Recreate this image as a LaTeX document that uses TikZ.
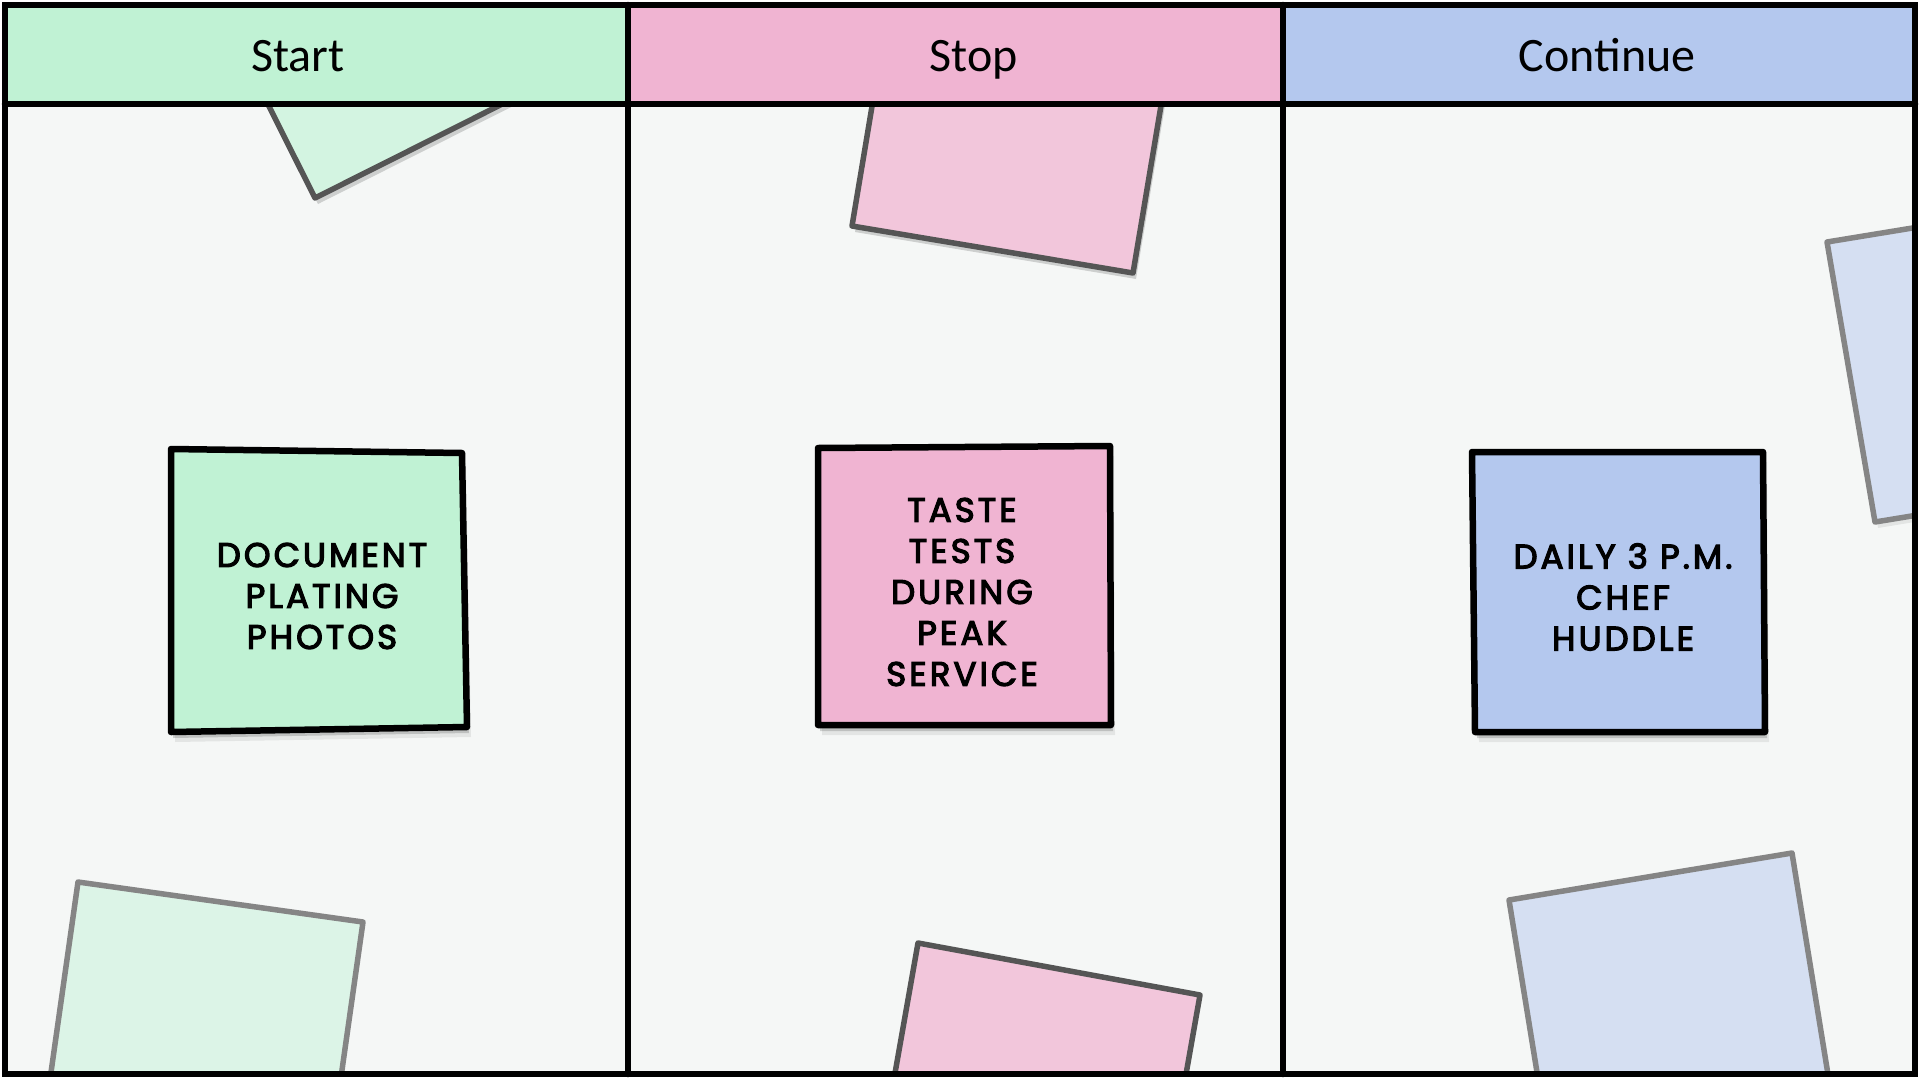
\documentclass[tikz,border=0pt]{standalone}
\usepackage{fontspec}
\setmainfont{Carlito}
\newfontfamily\handfont[LetterSpace=9,FakeBold=3.5]{Poppins}
\definecolor{bodybg}{HTML}{F5F7F6}
\definecolor{hgreen}{HTML}{C0F2D4}
\definecolor{hpink}{HTML}{F0B4D2}
\definecolor{hblue}{HTML}{B4C8EE}
\definecolor{fgreen}{HTML}{D3F4E1}
\definecolor{fgreenb}{HTML}{DCF4E7}
\definecolor{fpink}{HTML}{F2C6DB}
\definecolor{fblue}{HTML}{D5DFF2}
\definecolor{darkedge}{HTML}{555555}
\definecolor{lightedge}{HTML}{858585}
\tikzset{
  gridline/.style={draw=black, line width=6.5pt, line cap=round},
  mainnote/.style={draw=black, line width=6.5pt, line join=round},
  fadednote/.style={line width=5.5pt, line join=round},
  shadowA/.style={fill=black, opacity=0.16},
  shadowB/.style={fill=black, opacity=0.07},
  headtext/.style={font=\fontsize{48}{58}\selectfont, text=black, anchor=base, inner sep=0pt},
  notetext/.style={font=\handfont\fontsize{34}{41}\selectfont, align=center, text=black, inner sep=0pt}
}
\begin{document}
\begin{tikzpicture}[x=1pt,y=-1pt]
\useasboundingbox (0,0) rectangle (1920,1079);
\fill[white] (0,0) rectangle (1920,1079);
\fill[bodybg] (5,104) rectangle (1915,1074);

% faded background notes
\begin{scope}
\clip (5,104) rectangle (1915,1074);
% green top
\fill[shadowA, shift={(3,6)}] (315,198) -- (574,68) -- (444,-191) -- (185,-61) -- cycle;
\path[fadednote, fill=fgreen, draw=darkedge] (315,198) -- (574,68) -- (444,-191) -- (185,-61) -- cycle;
% pink top
\fill[shadowA, shift={(3,6)}] (852,226) -- (1133,273) -- (1180,-8) -- (899,-55) -- cycle;
\path[fadednote, fill=fpink, draw=darkedge] (852,226) -- (1133,273) -- (1180,-8) -- (899,-55) -- cycle;
% blue right
\fill[shadowB, shift={(3,6)}] (1827,242) -- (2108,196) -- (2156,476) -- (1875,522) -- cycle;
\path[fadednote, fill=fblue, draw=lightedge] (1827,242) -- (2108,196) -- (2156,476) -- (1875,522) -- cycle;
% green bottom
\path[fadednote, fill=fgreenb, draw=lightedge] (78,882) -- (363,922) -- (323,1204) -- (38,1164) -- cycle;
% pink bottom
\path[fadednote, fill=fpink, draw=darkedge] (918,943) -- (1200,995) -- (1150,1278) -- (868,1226) -- cycle;
% blue bottom
\path[fadednote, fill=fblue, draw=lightedge] (1509,900) -- (1792,853) -- (1838,1136) -- (1555,1183) -- cycle;
\end{scope}

% headers
\fill[hgreen] (5,5) rectangle (628,104);
\fill[hpink] (628,5) rectangle (1283,104);
\fill[hblue] (1283,5) rectangle (1915,104);
\node[headtext] (hstart) at (298,71) {Start};
\node[headtext] (hstop) at (974,71) {Stop};
\node[headtext] (hcont) at (1607,71) {Continue};

% grid lines
\draw[gridline] (5,5) rectangle (1915,1074);
\draw[gridline] (5,104) -- (1915,104);
\draw[gridline] (628,5) -- (628,1074);
\draw[gridline] (1283,5) -- (1283,1074);

% main notes
\fill[shadowB, shift={(4,10)}] (171,449) -- (462,453) -- (467,727) -- (171,732) -- cycle;
\fill[shadowA, shift={(2,6)}] (171,449) -- (462,453) -- (467,727) -- (171,732) -- cycle;
\path[mainnote, fill=hgreen] (171,449) -- (462,453) -- (467,727) -- (171,732) -- cycle;

\fill[shadowB, shift={(4,10)}] (818,448) -- (1110,446) -- (1111,725) -- (818,725) -- cycle;
\fill[shadowA, shift={(2,6)}] (818,448) -- (1110,446) -- (1111,725) -- (818,725) -- cycle;
\path[mainnote, fill=hpink] (818,448) -- (1110,446) -- (1111,725) -- (818,725) -- cycle;

\fill[shadowB, shift={(4,10)}] (1472,452) -- (1763,452) -- (1765,732) -- (1475,732) -- cycle;
\fill[shadowA, shift={(2,6)}] (1472,452) -- (1763,452) -- (1765,732) -- (1475,732) -- cycle;
\path[mainnote, fill=hblue] (1472,452) -- (1763,452) -- (1765,732) -- (1475,732) -- cycle;

\node[notetext] (tstart) at (322,596) {DOCUMENT\\PLATING\\PHOTOS};
\node[notetext] (tstop) at (962,592) {TASTE\\TESTS\\DURING\\PEAK\\SERVICE};
\node[notetext] (tcont) at (1623,597) {DAILY 3 P.M.\\CHEF\\HUDDLE};
\end{tikzpicture}
\end{document}
